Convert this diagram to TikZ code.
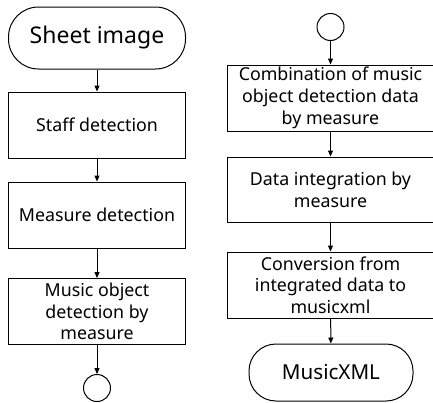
\documentclass[tikz,border=0pt]{standalone}
\usepackage{fontspec}
\setmainfont{Noto Sans}
\usetikzlibrary{arrows.meta}
\begin{document}
\begin{tikzpicture}[x=1pt,y=-1pt,
  boxst/.style={draw, line width=1pt, minimum width=177pt, minimum height=66pt, align=center, inner sep=0pt, font=\fontsize{17.8}{21.7}\selectfont},
  termst/.style={draw, line width=1pt, rounded corners=30pt, minimum height=62pt, align=center, inner sep=0pt},
  connst/.style={draw, circle, line width=1pt, minimum size=27pt, inner sep=0pt},
  arr/.style={-{Triangle[length=6pt,width=5pt]}, line width=1pt}]
\clip (0,0) rectangle (433,402);
\fill[white] (0,0) rectangle (433,402);
% left column
\node[termst, minimum width=177pt, font=\fontsize{23}{27}\selectfont] (sheet) at (97,38) {Sheet image};
\node[boxst] (staff) at (97,125) {Staff detection};
\node[boxst] (meas) at (97,215) {Measure detection};
\node[boxst] (mobj) at (97,311.5) {Music object\\detection by\\measure};
\node[connst] (c1) at (97,388) {};
\draw[arr] (sheet) -- (staff);
\draw[arr] (staff) -- (meas);
\draw[arr] (meas) -- (mobj);
\draw[arr] (mobj) -- (c1);
% right column
\node[connst] (c2) at (330.5,27) {};
\node[boxst, minimum width=207pt] (comb) at (330.5,98) {Combination of music\\object detection data\\by measure};
\node[boxst, minimum width=207pt, minimum height=65pt] (integ) at (330.5,189.5) {Data integration by\\measure};
\node[boxst, minimum width=207pt] (conv) at (330.5,285) {Conversion from\\integrated data to\\musicxml};
\node[termst, minimum width=164pt, minimum height=57pt, rounded corners=27pt, font=\fontsize{20.6}{24}\selectfont] (mxml) at (331,372.5) {MusicXML};
\draw[arr] (c2) -- (comb);
\draw[arr] (comb) -- (integ);
\draw[arr] (integ) -- (conv);
\draw[arr] (conv) -- (mxml);
\end{tikzpicture}
\end{document}
